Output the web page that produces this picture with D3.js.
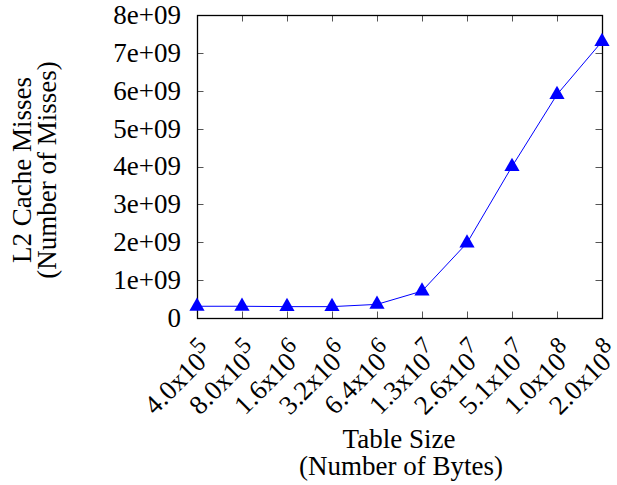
<!DOCTYPE html>
<html>
<head>
<meta charset="utf-8">
<script src="https://cdn.jsdelivr.net/npm/d3@7/dist/d3.min.js"></script>
<style>
  html, body { margin: 0; padding: 0; background: #fff; }
  svg { display: block; font-family: "Liberation Serif", "Times New Roman", serif; }
</style>
</head>
<body>
<svg id="chart" width="617" height="485"></svg>
<script>
// Table size categories: mantissa and power-of-ten exponent
const sizeMantissa = ["4.0", "8.0", "1.6", "3.2", "6.4", "1.3", "2.6", "5.1", "1.0", "2.0"];
const sizeExponent = ["5", "5", "6", "6", "6", "7", "7", "7", "8", "8"];
// L2 cache misses per table size
const l2Misses = [3.1e8, 3.1e8, 3.0e8, 3.0e8, 3.6e8, 7.1e8, 1.98e9, 4.0e9, 5.9e9, 7.3e9];
// Y-axis tick values and labels
const yTicks = [0, 1e9, 2e9, 3e9, 4e9, 5e9, 6e9, 7e9, 8e9];
const yTickLabels = ["0", "1e+09", "2e+09", "3e+09", "4e+09", "5e+09", "6e+09", "7e+09", "8e+09"];

const svg = d3.select("#chart");
const plot = { left: 197, right: 602, top: 15, bottom: 318 };
const fontSize = 27;
const tickLen = 6.5;

const x = d3.scalePoint()
  .domain(d3.range(sizeMantissa.length))
  .range([plot.left, plot.right]);
const y = d3.scaleLinear()
  .domain([0, 8e9])
  .range([plot.bottom, plot.top]);

// Inward ticks on all four sides
const ticks = svg.append("g").attr("stroke", "#555").attr("stroke-width", 1);
yTicks.forEach(v => {
  const yy = Math.round(y(v)) + 0.5;
  ticks.append("line").attr("x1", plot.left).attr("x2", plot.left + tickLen).attr("y1", yy).attr("y2", yy);
  ticks.append("line").attr("x1", plot.right).attr("x2", plot.right - tickLen).attr("y1", yy).attr("y2", yy);
});
x.domain().forEach(i => {
  const xx = Math.round(x(i)) + 0.5;
  ticks.append("line").attr("x1", xx).attr("x2", xx).attr("y1", plot.bottom).attr("y2", plot.bottom - tickLen);
  ticks.append("line").attr("x1", xx).attr("x2", xx).attr("y1", plot.top).attr("y2", plot.top + tickLen);
});

// Plot border
svg.append("rect")
  .attr("x", plot.left + 0.5).attr("y", plot.top + 0.5)
  .attr("width", plot.right - plot.left).attr("height", plot.bottom - plot.top)
  .attr("fill", "none").attr("stroke", "#000").attr("stroke-width", 1.3);

// Y tick labels
svg.append("g").selectAll("text")
  .data(yTicks)
  .join("text")
  .attr("x", plot.left - 16)
  .attr("y", d => y(d))
  .attr("dy", "0.33em")
  .attr("text-anchor", "end")
  .attr("font-size", fontSize)
  .text((d, i) => yTickLabels[i]);

// X tick labels, rotated, with exponent as superscript
const xl = svg.append("g").selectAll("text")
  .data(x.domain())
  .join("text")
  .attr("font-size", fontSize)
  .attr("text-anchor", "end")
  .attr("transform", d => `translate(${x(d) + 19},${plot.bottom + 37}) rotate(-45)`);
xl.append("tspan").text(d => sizeMantissa[d] + "x10");
xl.append("tspan")
  .attr("font-size", fontSize * 0.88)
  .attr("dy", "-0.5em")
  .text(d => sizeExponent[d]);

// Data line and triangle markers
const line = d3.line().x((d, i) => x(i)).y(d => y(d));
svg.append("path")
  .datum(l2Misses)
  .attr("d", line)
  .attr("fill", "none")
  .attr("stroke", "#0000ff")
  .attr("stroke-width", 1);

const tri = d3.symbol().type(d3.symbolTriangle).size(100);
svg.append("g").selectAll("path")
  .data(l2Misses)
  .join("path")
  .attr("d", tri)
  .attr("transform", (d, i) => `translate(${x(i)},${y(d)})`)
  .attr("fill", "#0000ff");

// Axis titles
const yTitle = svg.append("text")
  .attr("transform", "translate(0,170) rotate(-90)")
  .attr("text-anchor", "middle")
  .attr("font-size", fontSize);
yTitle.append("tspan").attr("x", 0).attr("y", 31).text("L2 Cache Misses");
yTitle.append("tspan").attr("x", 0).attr("y", 56).text("(Number of Misses)");

const xTitle = svg.append("text")
  .attr("text-anchor", "middle")
  .attr("font-size", fontSize);
xTitle.append("tspan").attr("x", 399).attr("y", 448).text("Table Size");
xTitle.append("tspan").attr("x", 401).attr("y", 475).text("(Number of Bytes)");
</script>
</body>
</html>
